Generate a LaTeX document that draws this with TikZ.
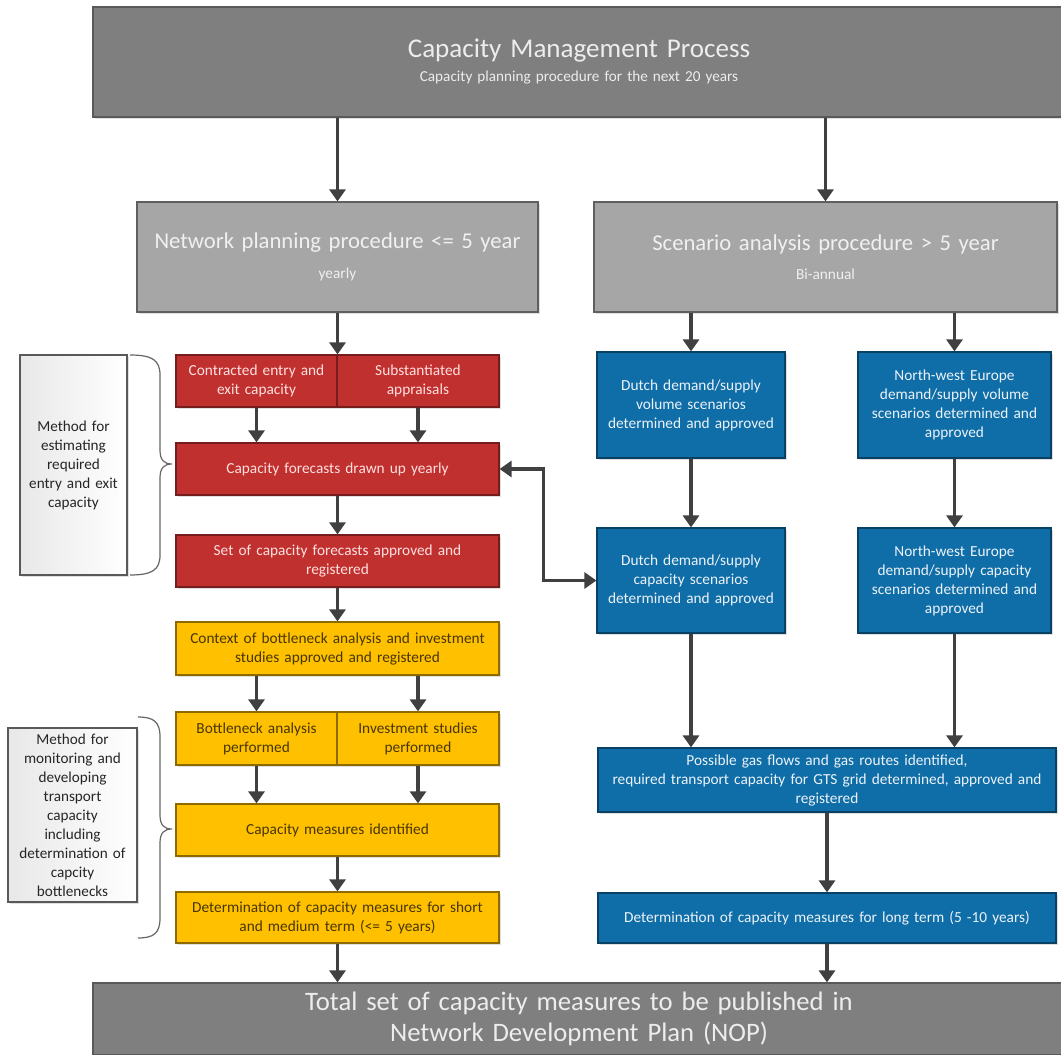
\documentclass[tikz,border=0pt]{standalone}
\usepackage{fontspec}
\setmainfont{Carlito}
\usetikzlibrary{arrows.meta,shadows}
\definecolor{darkbox}{HTML}{7F7F7F}
\definecolor{lightbox}{HTML}{A6A6A6}
\definecolor{redfill}{HTML}{C0302E}
\definecolor{yellowfill}{HTML}{FFC000}
\definecolor{bluefill}{HTML}{0F6DA8}
\definecolor{arrowgray}{HTML}{404040}
\newcommand{\pu}{0.75pt}
\newcommand{\subline}[2]{{\fontsize{#1}{11}\selectfont\spaceskip=.3333em\xspaceskip=.5em #2}}
\tikzset{
    block/.style={draw, line width=0.9pt, inner sep=0pt, align=center,
        font=\fontsize{11.5}{14.25}\selectfont,
        drop shadow={shadow xshift=1.2pt, shadow yshift=-1.2pt, opacity=0.25}},
    boxsize/.style 2 args={minimum width=#1*\pu, minimum height=#2*\pu, text width=#1*\pu-2pt},
    graybig/.style={block, fill=darkbox, draw=darkbox!70!black, text=white!93!black},
    graymid/.style={block, fill=lightbox, draw=darkbox!75!black, text=white!94!black},
    redbox/.style={block, fill=redfill, draw=redfill!60!black, text=white!88!red},
    yellowbox/.style={block, fill=yellowfill, draw=yellowfill!55!black, text=black!72!yellowfill},
    bluebox/.style={block, fill=bluefill, draw=bluefill!60!black, text=white!92!bluefill},
    sidebox/.style={block, left color=black!9, right color=white, draw=black!65, line width=1.1pt,
        text=black!85, font=\fontsize{11.4}{14.25}\selectfont},
    flow/.style={draw=arrowgray, line width=2.8pt, -{Triangle[width=12pt,length=9pt]}},
    twoway/.style={draw=arrowgray, line width=2.8pt, {Triangle[width=12pt,length=9pt]}-{Triangle[width=12pt,length=9pt]}},
    bracket/.style={draw=black!60, line width=0.9pt},
}

\begin{document}
\begin{tikzpicture}[x=\pu, y=-\pu]
\useasboundingbox (0,0) rectangle (1061,1055);
\fill[white] (0,0) rectangle (1061,1055);
\clip (0,0) rectangle (1061,1055);

\node[graybig, boxsize={972}{110}, font=\fontsize{20.3}{18}\selectfont] (top) at (579,62)
    {Capacity Management Process\\\subline{11.4}{Capacity planning procedure for the next 20 years}};
\node[graymid, boxsize={401}{110}, font=\fontsize{17}{22}\selectfont] (plan) at (337.5,257)
    {Network planning procedure <= 5 year\\\subline{11.5}{yearly}};
\node[graymid, boxsize={463}{110}, font=\fontsize{17}{22}\selectfont] (scen) at (825.5,257)
    {Scenario analysis procedure > 5 year\\\subline{11.5}{Bi-annual}};

\node[redbox, boxsize={161}{52}] (contr) at (256.5,381) {Contracted entry and\\exit capacity};
\node[redbox, boxsize={162}{52}] (subst) at (418,381) {Substantiated\\appraisals};
\node[redbox, boxsize={323}{52}] (fcast) at (337.5,469) {Capacity forecasts drawn up yearly};
\node[redbox, boxsize={323}{52}] (fappr) at (337.5,561) {Set of capacity forecasts approved and\\registered};

\node[yellowbox, boxsize={323}{53}] (ctx) at (337.5,648.5) {Context of bottleneck analysis and investment\\studies approved and registered};
\node[yellowbox, boxsize={161}{53}] (bneck) at (256.5,738.5) {Bottleneck analysis\\performed};
\node[yellowbox, boxsize={162}{53}] (invst) at (418,738.5) {Investment studies\\performed};
\node[yellowbox, boxsize={323}{52}] (meas) at (337.5,830) {Capacity measures identified};
\node[yellowbox, boxsize={323}{51}] (short) at (337.5,917.5) {Determination of capacity measures for short\\and medium term (<= 5 years)};

\node[bluebox, boxsize={188}{106}] (dvol) at (691,405) {Dutch demand/supply\\volume scenarios\\determined and approved};
\node[bluebox, boxsize={193}{106}] (nvol) at (954.5,405) {North-west Europe\\demand/supply volume\\scenarios determined and\\approved};
\node[bluebox, boxsize={188}{105}] (dcap) at (691,580.5) {Dutch demand/supply\\capacity scenarios\\determined and approved};
\node[bluebox, boxsize={193}{105}] (ncap) at (954.5,580.5) {North-west Europe\\demand/supply capacity\\scenarios determined and\\approved};
\node[bluebox, boxsize={458}{64}] (flows) at (827,780) {Possible gas flows and gas routes identified,\\required transport capacity for GTS grid determined, approved and\\registered};
\node[bluebox, boxsize={458}{50}] (longt) at (827,918) {Determination of capacity measures for long term (5 -10 years)};

\node[graybig, boxsize={972}{72}, font=\fontsize{20}{23}\selectfont] (total) at (579,1019)
    {Total set of capacity measures to be published in\\Network Development Plan (NOP)};

\node[sidebox, boxsize={107}{220}] (est) at (73.5,465) {Method for\\estimating\\required\\entry and exit\\capacity};
\node[sidebox, boxsize={129}{174}] (mon) at (72.5,815) {Method for\\monitoring and\\developing\\transport\\capacity\\including\\determination of\\capcity\\bottlenecks};

\draw[bracket] (130,355) .. controls (152,355) and (160,360) .. (160,375) -- (160,450)
    .. controls (160,460) and (164,464) .. (172,464) .. controls (164,464) and (160,468) .. (160,478)
    -- (160,555) .. controls (160,570) and (152,575) .. (130,575);
\draw[bracket] (138,717) .. controls (154,717) and (160,722) .. (160,737) -- (160,815)
    .. controls (160,825) and (164,829) .. (172,829) .. controls (164,829) and (160,833) .. (160,843)
    -- (160,918) .. controls (160,933) and (154,938) .. (138,938);

\draw[flow] (top.south -| plan) -- (plan.north);
\draw[flow] (top.south -| scen) -- (scen.north);
\draw[flow] (plan.south) -- (plan.south |- contr.north);
\draw[flow] (contr.south) -- (contr.south |- fcast.north);
\draw[flow] (subst.south) -- (subst.south |- fcast.north);
\draw[flow] (fcast) -- (fappr);
\draw[flow] (fappr) -- (ctx);
\draw[flow] (ctx.south -| bneck) -- (bneck.north);
\draw[flow] (ctx.south -| invst) -- (invst.north);
\draw[flow] (bneck.south) -- (bneck.south |- meas.north);
\draw[flow] (invst.south) -- (invst.south |- meas.north);
\draw[flow] (meas) -- (short);
\draw[flow] (short.south) -- (short.south |- total.north);
\draw[flow] (scen.south -| dvol) -- (dvol.north);
\draw[flow] (scen.south -| nvol) -- (nvol.north);
\draw[flow] (dvol) -- (dcap);
\draw[flow] (nvol) -- (ncap);
\draw[flow] (dcap.south) -- (dcap.south |- flows.north);
\draw[flow] (ncap.south) -- (ncap.south |- flows.north);
\draw[flow] (flows) -- (longt);
\draw[flow] (longt.south) -- (longt.south |- total.north);
\draw[twoway] (fcast.east) -- ++(44,0) |- (dcap.west);
\end{tikzpicture}
\end{document}
